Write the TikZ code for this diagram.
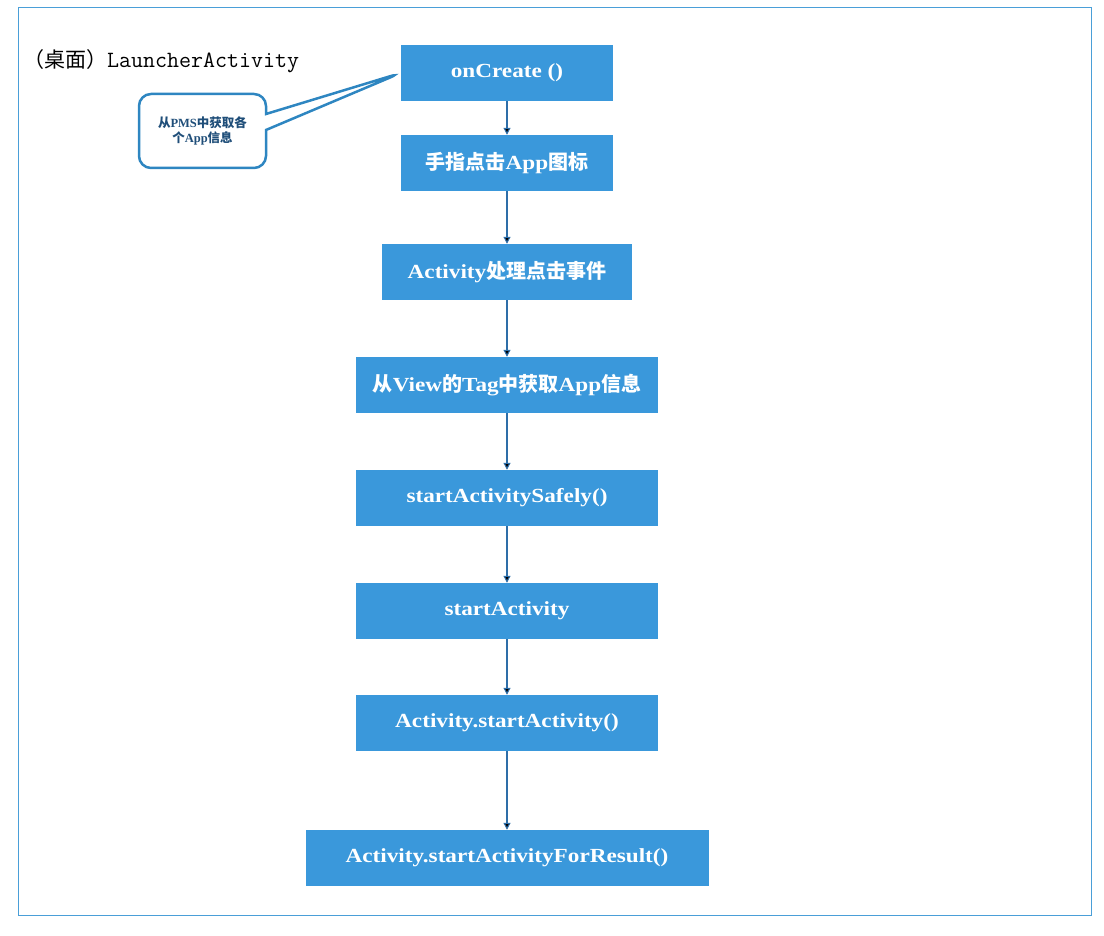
\documentclass[tikz,border=0pt]{standalone}
\usepackage{fontspec}
\setmainfont{Liberation Serif}
\newfontfamily\boxfont[FakeStretch=1.16]{Liberation Serif}
\newfontfamily\cjk{Noto Sans CJK SC}
\newcommand{\cn}[1]{{\cjk #1}}
\usetikzlibrary{arrows.meta, positioning, shapes.callouts}

\definecolor{boxblue}{HTML}{3A98DB}
\definecolor{arrowblue}{HTML}{2E6EA8}
\definecolor{calloutblue}{HTML}{2E86C1}
\definecolor{noteblue}{HTML}{1F4E79}
\definecolor{frameblue}{HTML}{4A9FD8}

\begin{document}
\begin{tikzpicture} [x = 1pt, y = 1pt, node distance = 113pt, on grid,
every node/.style = {font = \boxfont\fontsize{20}{24}\selectfont\bfseries},
stepbox/.style = {rectangle, fill = boxblue, text = white, minimum height = 56pt, inner sep = 0pt},
flow/.style = {-{Triangle[length = 7pt, width = 7pt]}, draw = arrowblue, line width = 1.1pt}]

\useasboundingbox (0,0) rectangle (1104,936);
\draw [frameblue, line width = 1pt] (18,20) rectangle (1091,928);

\node (title) [anchor = west, inner sep = 0pt, font = \fontsize{21}{24}\selectfont] at (23,875)
  {\cn{（桌面）}\ttfamily\fontsize{23.3}{26}\selectfont LauncherActivity};

\node (oncreate) [stepbox, minimum width = 212pt] at (507,863) {onCreate ()};
\node (tap) [stepbox, minimum width = 212pt, below = 90pt of oncreate] {\cn{手指点击}App\cn{图标}};
\node (click) [stepbox, minimum width = 250pt, below = 109pt of tap] {Activity\cn{处理点击事件}};
\node (taginfo) [stepbox, minimum width = 302pt, below = of click] {\cn{从}View\cn{的}Tag\cn{中获取}App\cn{信息}};
\node (safely) [stepbox, minimum width = 302pt, below = of taginfo] {startActivitySafely()};
\node (start) [stepbox, minimum width = 302pt, below = 113pt of safely] {startActivity};
\node (activitystart) [stepbox, minimum width = 302pt, below = 112pt of start] {Activity.startActivity()};
\node (forresult) [stepbox, minimum width = 403pt, below = 135pt of activitystart] {Activity.startActivityForResult()};

\node (pms) [rectangle callout, draw = calloutblue, line width = 2.5pt, fill = white,
  rounded corners = 12pt, minimum width = 127pt, minimum height = 74pt,
  callout absolute pointer = {(oncreate.west)}, callout pointer width = 16pt,
  align = center, text = noteblue, font = \fontsize{12.5}{15.5}\selectfont\bfseries]
  at (202.5,805) {\cn{从}PMS\cn{中获取各}\\\cn{个}App\cn{信息}};

\path [flow]
  (oncreate) edge (tap)
  (tap) edge (click)
  (click) edge (taginfo)
  (taginfo) edge (safely)
  (safely) edge (start)
  (start) edge (activitystart)
  (activitystart) edge (forresult);
\end{tikzpicture}
\end{document}
